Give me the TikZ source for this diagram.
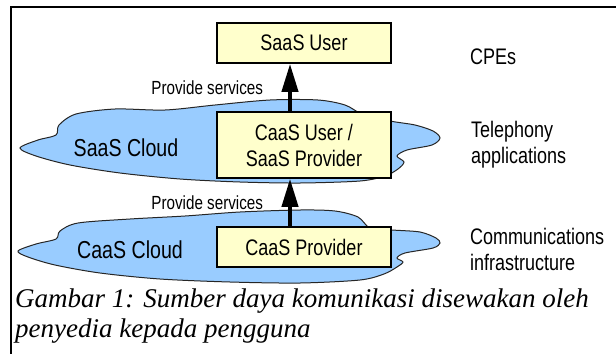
\documentclass[tikz,border=0pt]{standalone}
\usepackage{fontspec}
\setmainfont{Liberation Serif}
\newfontfamily\narrowsf[FakeStretch=0.8]{Liberation Sans}
\usetikzlibrary{arrows.meta,positioning}
\definecolor{boxyellow}{RGB}{255,255,204}
\definecolor{cloudblue}{RGB}{153,204,255}

\begin{document}
\begin{tikzpicture}[x=1pt,y=-1pt,node distance=102pt]
  \tikzstyle{svcbox}=[draw,line width=1.6pt,fill=boxyellow,minimum width=174pt,minimum height=40pt,align=center,font=\narrowsf\fontsize{22.5}{26}\selectfont]
  \tikzstyle{lbl}=[inner sep=0pt,align=left,font=\narrowsf\fontsize{22.5}{26}\selectfont]
  \tikzstyle{small lbl}=[inner sep=0pt,font=\narrowsf\fontsize{19}{22}\selectfont]
  \tikzstyle{cloud lbl}=[inner sep=0pt,font=\narrowsf\fontsize{24.5}{28}\selectfont]
  \tikzstyle{cloudarea}=[draw=black!85,line width=1pt,fill=cloudblue]
  \tikzstyle{up arrow}=[line width=4pt,-{Triangle[length=28pt,width=16pt]}]
  \tikzstyle{caption}=[inner sep=0pt,font=\fontsize{27}{30}\selectfont\itshape]

  \useasboundingbox (0,0) rectangle (616,354);

  % clouds
  \draw[cloudarea] plot[smooth cycle,tension=0.5] coordinates {
    (20,148) (38,140) (56,135) (59,125) (76,114) (115,109) (165,110)
    (215,105) (270,100) (318,100) (345,105) (362,114) (390,121) (415,125)
    (433,131) (440,138) (432,145) (407,150) (397,156) (404,162) (398,169)
    (385,176) (360,181) (300,183) (240,182) (180,179) (120,173) (70,165) (36,156)};
  \draw[cloudarea] plot[smooth cycle,tension=0.5] coordinates {
    (18,251) (36,244) (56,239) (60,231) (78,223) (130,219) (185,216)
    (240,212) (300,210) (335,211) (358,217) (370,228) (392,230) (420,232)
    (436,238) (440,243) (433,248) (405,253) (397,258) (403,262) (397,267)
    (384,274) (360,280) (300,283) (230,282) (160,279) (100,273) (55,265) (28,257)};

  % frame
  \draw[line width=2pt] (616,7) -- (11,7) -- (11,354);

  \node[svcbox]                        (saasuser) at (304,43) {SaaS User};
  \node[svcbox,minimum height=66pt]    (caasuser) [below of=saasuser] {CaaS User /\\SaaS Provider};
  \node[svcbox]                        (caasprov) [below of=caasuser] {CaaS Provider};

  \node[cloud lbl] (saascloud) at (126,148) {SaaS Cloud};
  \node[cloud lbl] (caascloud) at (130,250) {CaaS Cloud};

  \node[lbl,anchor=west]          (cpes)       at (470,57) {CPEs};
  \node[lbl,right=79pt of caasuser]             (teleapp)    {Telephony\\applications};
  \node[lbl,right=78pt of caasprov,yshift=-2pt] (commsinfra) {Communications\\infrastructure};

  \draw[up arrow] ([xshift=-14pt]caasuser.north) -- node[small lbl,left=25pt] {Provide services} ([xshift=-14pt]saasuser.south);
  \draw[up arrow] ([xshift=-14pt]caasprov.north) -- node[small lbl,left=25pt] {Provide services} ([xshift=-14pt]caasuser.south);

  \node[caption,anchor=base west] (cap1) at (15,307) {Gambar 1: Sumber daya komunikasi disewakan oleh};
  \node[caption,anchor=base west] (cap2) at (15,337) {penyedia kepada pengguna};
\end{tikzpicture}
\end{document}
